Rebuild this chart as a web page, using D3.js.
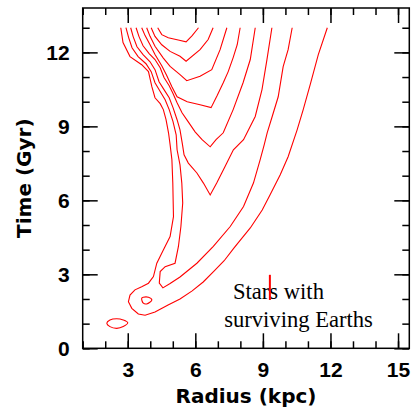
<!DOCTYPE html>
<html>
<head>
<meta charset="UTF-8">
<title>Stars with surviving Earths</title>
<script src="https://d3js.org/d3.v7.min.js"></script>
<style>
  body { margin: 0; background: #fff; }
  .tick text { font-family: "Liberation Sans", Arial, sans-serif; font-weight: bold; font-size: 21px; fill: #000; }
  .tick line { stroke: #000; stroke-width: 1.5; }
  .contour { fill: none; stroke: #ff0000; stroke-width: 1.1; }
  .title { font-family: "DejaVu Sans", sans-serif; font-weight: bold; font-size: 20px; }
  .note { font-family: "Liberation Serif", "Times New Roman", serif; font-size: 22.6px; }
</style>
</head>
<body>
<svg width="413" height="410"></svg>
<script>

// contour levels, each point is [radius (kpc), time (Gyr)], innermost first
var c1 = [[4.33,13.0],[4.51,12.72],[4.80,12.59],[5.24,12.50],[5.59,12.43],[5.86,12.68],[6.14,13.0]];
var c2 = [[4.04,13.0],[4.21,12.65],[4.51,12.31],[4.88,12.04],[5.32,11.84],[5.59,11.64],[6.21,12.11],[6.57,12.52],[6.79,13.0]];
var c3 = [[3.84,13.0],[3.99,12.65],[4.21,12.25],[4.58,11.77],[4.88,11.43],[5.32,11.10],[5.62,10.85],[6.21,11.03],[6.73,11.30],[7.10,12.11],[7.40,13.0]];
var c4 = [[3.62,13.0],[3.77,12.68],[3.99,12.31],[4.21,11.91],[4.51,11.46],[4.73,11.06],[4.96,10.61],[5.19,10.20],[5.64,10.00],[6.21,9.88],[6.70,9.76],[6.97,10.25],[7.24,10.77],[7.46,11.22],[7.68,11.79],[7.86,12.31],[7.99,13.0]];
var c5 = [[3.37,13.0],[3.50,12.64],[3.68,12.27],[3.95,11.95],[4.21,11.71],[4.44,11.38],[4.61,10.98],[4.84,10.65],[5.01,10.33],[5.19,9.96],[5.41,9.55],[5.68,9.19],[5.99,8.78],[6.30,8.46],[6.66,8.17],[6.92,8.46],[7.24,8.74],[7.68,9.68],[8.12,10.77],[8.44,11.71],[8.66,13.0]];
var c6 = [[3.13,13.0],[3.24,12.64],[3.41,12.23],[3.68,11.91],[3.99,11.62],[4.21,11.30],[4.39,10.81],[4.61,10.49],[4.84,10.16],[5.01,9.76],[5.19,9.27],[5.32,8.86],[5.43,8.26],[5.50,7.85],[5.69,7.51],[6.07,7.11],[6.36,6.70],[6.66,6.22],[6.95,6.70],[7.32,7.37],[7.69,8.05],[8.14,8.46],[8.66,9.40],[8.96,10.49],[9.18,11.71],[9.40,13.0]];
var c7 = [[2.92,13.0],[3.04,12.60],[3.19,12.19],[3.46,11.83],[3.81,11.54],[4.04,11.22],[4.21,10.77],[4.44,10.41],[4.66,10.08],[4.84,9.68],[5.01,9.19],[5.15,8.66],[5.19,8.05],[5.32,7.44],[5.40,6.70],[5.44,5.89],[5.36,4.94],[5.25,4.13],[5.10,3.45],[4.66,3.31],[4.44,3.11],[4.40,2.64],[4.56,2.45],[4.88,2.63],[5.32,2.89],[6.07,3.45],[6.80,4.13],[7.55,4.94],[8.14,5.75],[8.58,6.70],[8.88,7.65],[9.06,8.26],[9.19,8.74],[9.41,9.39],[9.68,10.20],[9.90,11.42],[10.12,12.11],[10.30,13.0]];
var c8 = [[2.69,13.0],[2.79,12.40],[3.10,11.83],[3.62,11.50],[3.92,11.22],[4.07,10.61],[4.21,10.16],[4.44,9.92],[4.58,9.68],[4.70,9.27],[4.81,8.74],[4.88,8.26],[4.96,7.65],[5.00,6.71],[5.03,5.34],[4.88,4.53],[4.58,3.99],[4.29,3.45],[4.14,2.91],[3.92,2.64],[3.62,2.50],[3.32,2.37],[3.10,2.16],[3.03,1.89],[3.18,1.62],[3.47,1.39],[3.77,1.34],[4.21,1.47],[4.79,1.76],[5.32,2.00],[5.86,2.33],[6.35,2.69],[6.84,3.14],[7.28,3.55],[7.72,4.07],[8.44,4.88],[8.97,5.61],[9.32,6.23],[9.77,7.04],[10.12,7.77],[10.52,8.86],[10.79,9.68],[11.10,10.69],[11.46,11.91],[11.86,13.0]];

// closed loops
var island = [[3.62,2.03],[3.69,1.83],[3.84,1.80],[4.07,1.96],[3.92,2.07],[3.69,2.07]];
var blob = [[2.07,1.02],[2.21,0.88],[2.51,0.81],[2.80,0.88],[3.00,1.04],[2.80,1.15],[2.51,1.20],[2.21,1.15]];

// red marker: radius, time range
var markerR = 9.31;
var markerT = [1.96, 2.98];

var xMajor = [3, 6, 9, 12, 15];
var yMajor = [0, 3, 6, 9, 12];
var xMinor = d3.range(1, 16);
var yMinor = d3.range(0, 14);

var noteLines = [
  {text: "Stars with", r: 7.67, t: 2.0},
  {text: "surviving Earths", r: 7.28, t: 0.86}
];

var svg = d3.select("svg"),
    width = +svg.attr("width"),
    height = +svg.attr("height");

var margin = {top: 8, right: 3.7, bottom: 61.7, left: 82.7};

var x = d3.scaleLinear().domain([1, 15.5]).range([margin.left, width - margin.right]);
var y = d3.scaleLinear().domain([0, 13.8]).range([height - margin.bottom, margin.top]);

var big = 15, small = 7;

// minor ticks on all four sides
svg.append("g").attr("transform", "translate(0," + y(0) + ")")
  .call(d3.axisBottom(x).tickValues(xMinor).tickSize(-small).tickFormat(""));
svg.append("g").attr("transform", "translate(0," + y(13.8) + ")")
  .call(d3.axisTop(x).tickValues(xMinor).tickSize(-small).tickFormat(""));
svg.append("g").attr("transform", "translate(" + x(1) + ",0)")
  .call(d3.axisLeft(y).tickValues(yMinor).tickSize(-small).tickFormat(""));
svg.append("g").attr("transform", "translate(" + x(15.5) + ",0)")
  .call(d3.axisRight(y).tickValues(yMinor).tickSize(-small).tickFormat(""));

// major ticks
svg.append("g").attr("transform", "translate(0," + y(0) + ")")
  .call(d3.axisBottom(x).tickValues(xMajor).tickSize(-big).tickPadding(14));
svg.append("g").attr("transform", "translate(0," + y(13.8) + ")")
  .call(d3.axisTop(x).tickValues(xMajor).tickSize(-big).tickFormat(""));
svg.append("g").attr("transform", "translate(" + x(1) + ",0)")
  .call(d3.axisLeft(y).tickValues(yMajor).tickSize(-big).tickPadding(13));
svg.append("g").attr("transform", "translate(" + x(15.5) + ",0)")
  .call(d3.axisRight(y).tickValues(yMajor).tickSize(-big).tickFormat(""));

svg.selectAll(".domain").remove();

svg.append("rect")
  .attr("x", x(1)).attr("y", y(13.8))
  .attr("width", x(15.5) - x(1)).attr("height", y(0) - y(13.8))
  .attr("fill", "none").attr("stroke", "#000").attr("stroke-width", 1.5);

var line = d3.line()
  .x(function(d) { return x(d[0]); })
  .y(function(d) { return y(d[1]); });

var loop = d3.line()
  .x(function(d) { return x(d[0]); })
  .y(function(d) { return y(d[1]); })
  .curve(d3.curveCatmullRomClosed);

svg.selectAll("path.open")
  .data([c1, c2, c3, c4, c5, c6, c7, c8])
  .enter().append("path")
  .attr("class", "contour open")
  .attr("d", line);

svg.selectAll("path.closed")
  .data([island, blob])
  .enter().append("path")
  .attr("class", "contour closed")
  .attr("d", loop);

svg.selectAll("text.note")
  .data(noteLines)
  .enter().append("text")
  .attr("class", "note")
  .attr("x", function(d) { return x(d.r); })
  .attr("y", function(d) { return y(d.t); })
  .text(function(d) { return d.text; });

svg.append("line")
  .attr("x1", x(markerR)).attr("x2", x(markerR))
  .attr("y1", y(markerT[0])).attr("y2", y(markerT[1]))
  .attr("stroke", "#ff0000").attr("stroke-width", 2);

// axis titles
svg.append("text")
  .attr("class", "title")
  .attr("x", (x(1) + x(15.5)) / 2)
  .attr("y", 403)
  .attr("text-anchor", "middle")
  .text("Radius (kpc)");

svg.append("text")
  .attr("class", "title")
  .attr("transform", "translate(31," + (y(0) + y(13.8)) / 2 + ") rotate(-90)")
  .attr("text-anchor", "middle")
  .text("Time (Gyr)");

</script>
</body>
</html>
